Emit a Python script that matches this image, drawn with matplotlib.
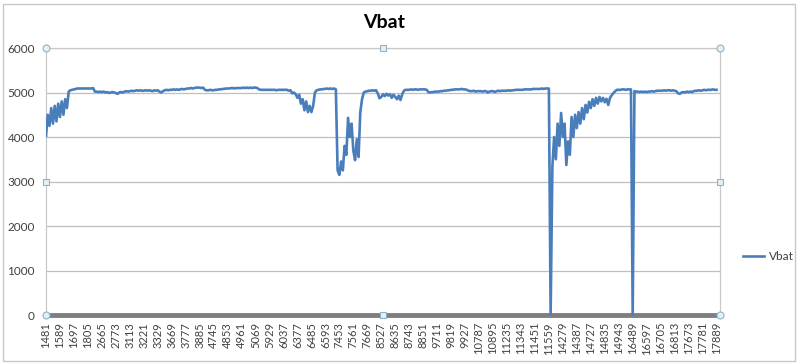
import matplotlib
matplotlib.use('Agg')
import matplotlib.pyplot as plt
from matplotlib.patches import Rectangle

# category labels shown on the x axis (every 8th sample)
x_labels = ['1481', '1589', '1697', '1805', '2665', '2773', '3113', '3221', '3329', '3669',
            '3777', '3885', '4745', '4853', '4961', '5069', '5929', '6037', '6377', '6485',
            '6593', '7453', '7561', '7669', '8527', '8635', '8743', '8851', '9711', '9819',
            '9927', '10787', '10895', '11235', '11343', '11451', '11559', '14279', '14387', '14727',
            '14835', '14943', '16489', '16597', '16705', '16813', '17673', '17781', '17889']
samples_per_label = 8

# Vbat readings, 8 per label interval
vbat = [
    4020, 4500, 4250, 4650, 4300, 4700, 4350, 4750,
    4450, 4800, 4500, 4850, 4650, 5020, 5050, 5060,
    5070, 5080, 5090, 5090, 5090, 5090, 5090, 5090,
    5090, 5090, 5090, 5100, 5020, 5020, 5010, 5020,
    5010, 5020, 5000, 5010, 4990, 5000, 5010, 5000,
    4990, 4970, 5000, 5010, 5000, 5020, 5030, 5020,
    5030, 5040, 5030, 5040, 5050, 5040, 5050, 5040,
    5040, 5050, 5040, 5050, 5040, 5030, 5050, 5040,
    5050, 5020, 5000, 5030, 5050, 5060, 5050, 5060,
    5060, 5070, 5060, 5070, 5060, 5070, 5080, 5070,
    5080, 5090, 5090, 5100, 5090, 5100, 5110, 5110,
    5110, 5100, 5110, 5060, 5050, 5050, 5060, 5050,
    5050, 5060, 5060, 5070, 5070, 5080, 5080, 5090,
    5090, 5090, 5100, 5100, 5090, 5100, 5100, 5100,
    5100, 5110, 5100, 5110, 5100, 5110, 5100, 5110,
    5110, 5100, 5070, 5060, 5060, 5060, 5060, 5060,
    5060, 5060, 5060, 5060, 5050, 5060, 5060, 5060,
    5060, 5060, 5060, 5040, 5050, 4980, 5000, 4960,
    4880, 4950, 4750, 4850, 4600, 4800, 4560, 4700,
    4560, 4700, 5000, 5050, 5060, 5070, 5070, 5080,
    5080, 5090, 5080, 5090, 5080, 5090, 5070, 3250,
    3150, 3450, 3250, 3800, 3600, 4430, 4000, 4300,
    3700, 3480, 3950, 3550, 4560, 4850, 5000, 5020,
    5030, 5040, 5040, 5050, 5040, 5050, 4980, 4870,
    4900, 4960, 4920, 4970, 4930, 4960, 4880, 4950,
    4900, 4850, 4930, 4830, 4960, 5040, 5060, 5060,
    5060, 5070, 5060, 5070, 5070, 5060, 5070, 5070,
    5070, 5070, 5060, 5010, 5000, 5010, 5010, 5020,
    5020, 5020, 5030, 5030, 5040, 5040, 5050, 5050,
    5060, 5060, 5070, 5070, 5070, 5070, 5080, 5070,
    5070, 5060, 5040, 5030, 5030, 5040, 5020, 5030,
    5030, 5030, 5020, 5030, 5030, 5000, 5020, 5030,
    5030, 5010, 5030, 5040, 5030, 5040, 5040, 5040,
    5040, 5050, 5040, 5050, 5050, 5060, 5060, 5060,
    5060, 5060, 5070, 5070, 5070, 5070, 5070, 5080,
    5080, 5080, 5080, 5080, 5090, 5080, 5090, 5090,
    5090, 0, 3330, 4000, 3500, 4300, 3800, 4540,
    4000, 4300, 3370, 3900, 3600, 4450, 4000, 4500,
    4200, 4560, 4300, 4650, 4400, 4720, 4550, 4790,
    4650, 4850, 4700, 4880, 4750, 4900, 4800, 4880,
    4780, 4860, 4720, 4880, 4940, 4990, 5030, 5060,
    5060, 5060, 5070, 5070, 5060, 5070, 5070, 5070,
    0, 5030, 5020, 5020, 5010, 5020, 5010, 5020,
    5010, 5020, 5020, 5030, 5020, 5030, 5040, 5040,
    5040, 5040, 5050, 5040, 5050, 5050, 5040, 5050,
    5040, 5030, 4980, 4970, 5000, 5010, 5000, 5020,
    5010, 5020, 5010, 5030, 5040, 5040, 5050, 5040,
    5050, 5060, 5050, 5060, 5060, 5060, 5070, 5060,
    5060,
]
y_ticks = [0, 1000, 2000, 3000, 4000, 5000, 6000]

plt.rcParams['font.family'] = ['Lato', 'DejaVu Sans']

fig = plt.figure(figsize=(8, 3.64), dpi=100)
ax = fig.add_axes([46 / 800, 1 - 315 / 364, 674 / 800, 267 / 364])

x = list(range(len(vbat)))
ax.plot(x, vbat, color='#4a7ebb', lw=1.9, label='Vbat', solid_joinstyle='round', zorder=3)

ax.set_ylim(0, 6000)
ax.set_xlim(0, len(vbat) + 1)
ax.set_yticks(y_ticks)
ax.set_yticklabels([str(v) for v in y_ticks], fontsize=8.5, color='#404040')
ax.set_xticks(range(0, len(vbat), samples_per_label))
ax.set_xticklabels(x_labels, rotation=90, fontsize=8, color='#404040')
ax.tick_params(axis='both', length=0)
ax.tick_params(axis='x', pad=5)
ax.tick_params(axis='y', pad=8)

ax.grid(axis='y', color='#bfbfbf', lw=0.9)
ax.set_axisbelow(True)
for side in ['left', 'right', 'top']:
    ax.spines[side].set_color('#c8c8c8')
    ax.spines[side].set_linewidth(0.9)
ax.spines['bottom'].set_color('#7f7f7f')
ax.spines['bottom'].set_linewidth(3.5)

# plot area selection handles
for hx, hy, m in [(0, 1, 'o'), (1, 1, 'o'), (0, 0, 'o'), (1, 0, 'o'),
                  (0.5, 1, 's'), (0.5, 0, 's'), (0, 0.5, 's'), (1, 0.5, 's')]:
    ax.plot(hx, hy, marker=m, ms=5 if m == 'o' else 4, mfc='#e3f1f6', mec='#8fb3c4',
            mew=0.8, transform=ax.transAxes, clip_on=False, zorder=5)

fig.text(384 / 800, 1 - 22 / 364, 'Vbat', ha='center', va='center',
         fontsize=14, fontweight='bold', color='#000000')

fig.legend(loc='center left', bbox_to_anchor=(732 / 800, 1 - 257 / 364), frameon=False,
           fontsize=8.5, handlelength=1.8, handletextpad=0.4, labelcolor='#404040')

# chart border
fig.patches.append(Rectangle((0.004, 0.008), 0.99, 0.982, transform=fig.transFigure,
                             fill=False, edgecolor='#c8c8c8', lw=1))

fig.savefig('out.png', dpi=100)
